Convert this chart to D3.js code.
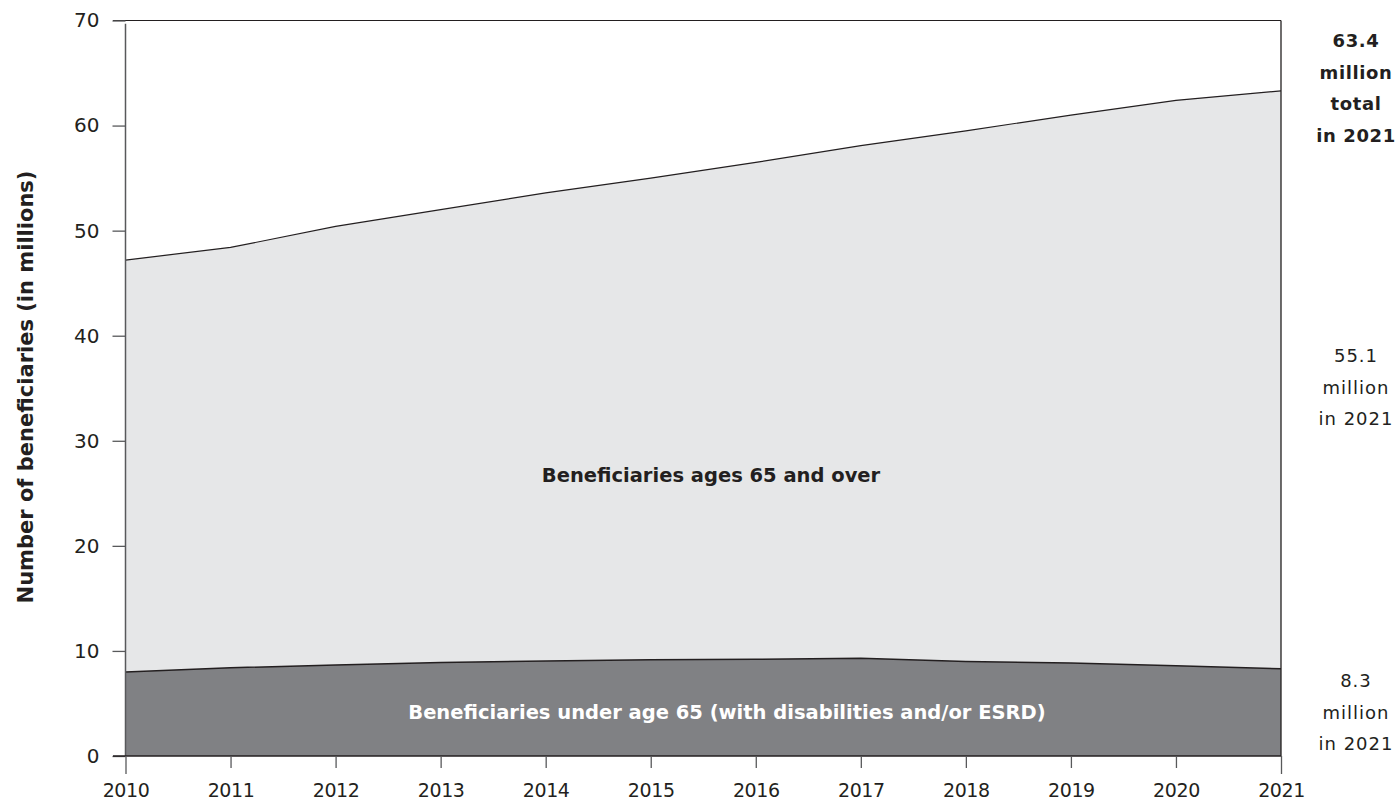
<!DOCTYPE html>
<html><head><meta charset="utf-8">
<script src="https://cdn.jsdelivr.net/npm/d3@7"></script>
<style>body{margin:0;background:#fff;}svg{display:block;font-family:"DejaVu Sans",sans-serif;}</style>
</head><body><svg id="c" width="1396" height="804"></svg>
<script>
const years = [2010,2011,2012,2013,2014,2015,2016,2017,2018,2019,2020,2021];
const under65 = [8.0,8.4,8.65,8.9,9.05,9.15,9.2,9.3,9.0,8.85,8.6,8.3];
const total = [47.2,48.4,50.4,52.0,53.6,55.0,56.5,58.1,59.5,61.0,62.4,63.3];
const yTicks = [0,10,20,30,40,50,60,70];
const rightTop = ["63.4","million","total","in 2021"];
const rightMid = ["55.1","million","in 2021"];
const rightBot = ["8.3","million","in 2021"];

const FONT = "DejaVu Sans, sans-serif";
const svg = d3.select("#c");
const x = d3.scaleLinear().domain([2010,2021]).range([125.5,1281]);
const y = d3.scaleLinear().domain([0,70]).range([756,20.5]);
const data = years.map((yr,i)=>({yr, u:under65[i], t:total[i]}));

svg.append("path").datum(data).attr("fill","#e6e7e8")
  .attr("d", d3.area().x(d=>x(d.yr)).y0(d=>y(d.u)).y1(d=>y(d.t)));
svg.append("path").datum(data).attr("fill","#808184")
  .attr("d", d3.area().x(d=>x(d.yr)).y0(y(0)).y1(d=>y(d.u)));
svg.append("path").datum(data).attr("fill","none").attr("stroke","#231f20").attr("stroke-width",1.2)
  .attr("d", d3.line().x(d=>x(d.yr)).y(d=>y(d.t)));
svg.append("path").datum(data).attr("fill","none").attr("stroke","#231f20").attr("stroke-width",1.5)
  .attr("d", d3.line().x(d=>x(d.yr)).y(d=>y(d.u)));

svg.append("line").attr("x1",113).attr("x2",x(2021)).attr("y1",y(70)).attr("y2",y(70)).attr("stroke","#231f20").attr("stroke-width",1);
svg.append("line").attr("x1",x(2021)).attr("x2",x(2021)).attr("y1",y(70)).attr("y2",y(0)).attr("stroke","#231f20").attr("stroke-width",1.3);

const ya = svg.append("g").attr("transform",`translate(${x(2010)},0)`)
  .call(d3.axisLeft(y).tickValues(yTicks).tickSize(13).tickPadding(13).tickFormat(d3.format("d")));
ya.select(".domain").attr("stroke","#58595b").attr("stroke-width",1.5).attr("d",`M0,${y(69.7)}V${y(0)}`);
ya.selectAll(".tick line").attr("stroke","#58595b").attr("stroke-width",1.3);
ya.selectAll(".tick text").attr("font-size",20).attr("fill","#231f20").attr("font-family",FONT);

const xa = svg.append("g").attr("transform",`translate(0,${y(0)})`)
  .call(d3.axisBottom(x).tickValues(years).tickSize(12).tickFormat(d3.format("d")));
xa.select(".domain").attr("stroke","#231f20").attr("stroke-width",1.5).attr("d",`M113,0H${x(2021)}`);
xa.selectAll(".tick line").attr("stroke","#58595b").attr("stroke-width",1.3);
xa.selectAll(".tick").filter(d=>d===2010||d===2021).select("line").attr("y2",18);
xa.selectAll(".tick text").attr("font-size",19).attr("fill","#231f20").attr("font-family",FONT)
  .attr("y",28).attr("dy","0.71em").attr("letter-spacing",-0.4);

svg.append("text").attr("transform","translate(33,387) rotate(-90)").attr("text-anchor","middle")
  .attr("font-size",21).attr("font-weight","bold").attr("fill","#231f20").text("Number of beneficiaries (in millions)");

svg.append("text").attr("x",711).attr("y",481.5).attr("text-anchor","middle").attr("font-size",19.5)
  .attr("font-weight","bold").attr("fill","#231f20").text("Beneficiaries ages 65 and over");
svg.append("text").attr("x",727).attr("y",719).attr("text-anchor","middle").attr("font-size",19.5)
  .attr("font-weight","bold").attr("fill","#ffffff").text("Beneficiaries under age 65 (with disabilities and/or ESRD)");

function block(lines, startY, bold){
  const t = svg.append("text").attr("text-anchor","middle").attr("font-size",18)
    .attr("font-weight", bold?"bold":"normal").attr("fill","#231f20").attr("letter-spacing", bold?0.6:1.0);
  lines.forEach((l,i)=>t.append("tspan").attr("x",1356).attr("y",startY+i*31.6).text(l));
}
block(rightTop,47,true);
block(rightMid,362,false);
block(rightBot,687,false);
</script></body></html>
